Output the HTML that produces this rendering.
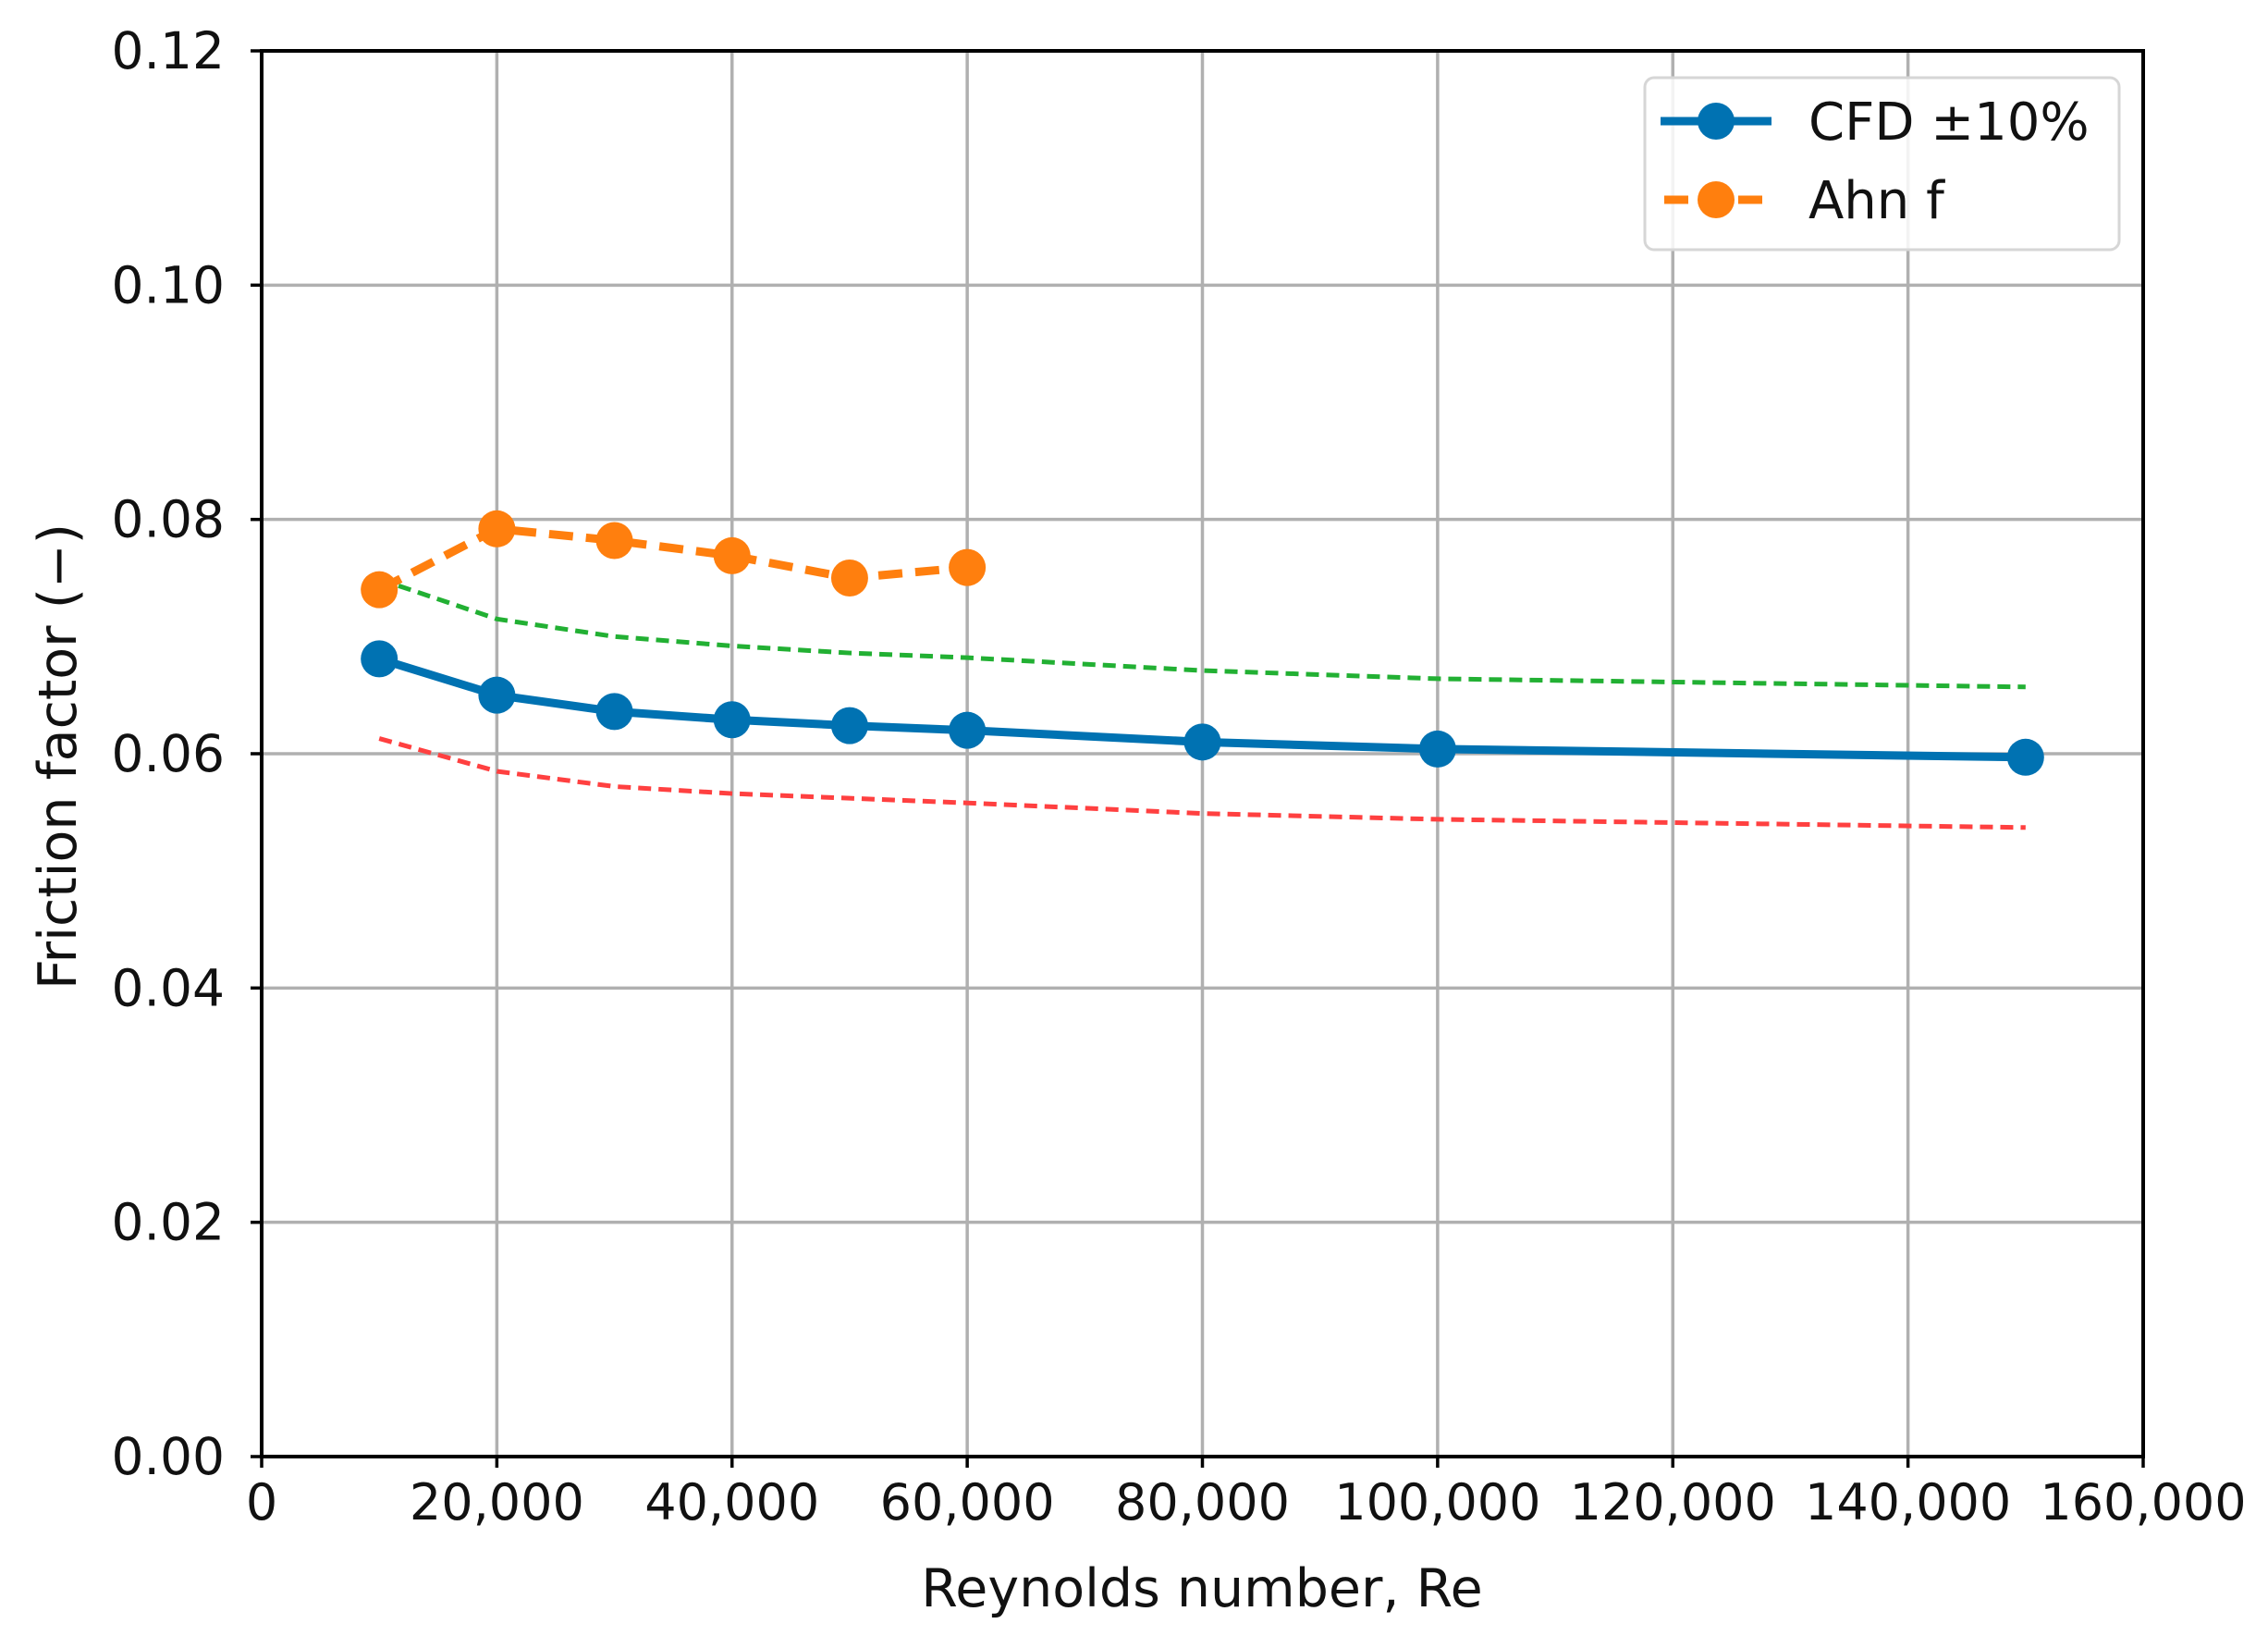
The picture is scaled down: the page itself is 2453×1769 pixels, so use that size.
<!DOCTYPE html>
<html><head><meta charset="utf-8"><style>
html,body{margin:0;padding:0;background:#fff;}
svg{display:block;}
text{font-family:"DejaVu Sans","Liberation Sans",sans-serif;fill:#111;}
</style></head><body>
<svg id="chart" width="2453" height="1769" viewBox="0 0 2453 1769" xmlns="http://www.w3.org/2000/svg">
<g id="grid"></g>
<g id="series"></g>
<g id="axes"></g>
<g>
  <rect x="1779" y="84" width="513" height="186" rx="10" fill="#fff" fill-opacity="0.85" stroke="#d6d6d6" stroke-width="3"/>
  <g>
    <line x1="1796" y1="131" x2="1916" y2="131" stroke="#0072b2" stroke-width="9"/>
    <circle cx="1856" cy="131" r="20" fill="#0072b2"/>
    <text x="1956" y="151" font-size="56">CFD ±10%</text>
  </g>
  <g>
    <line x1="1800" y1="216" x2="1916" y2="216" stroke="#ff7f0e" stroke-width="9" stroke-dasharray="26 14"/>
    <circle cx="1856" cy="216" r="20" fill="#ff7f0e"/>
    <text x="1956" y="236" font-size="56">Ahn f</text>
  </g>
</g>
<text x="1300" y="1737" font-size="57" text-anchor="middle">Reynolds number, Re</text>
<text transform="translate(82,818) rotate(-90)" font-size="57" text-anchor="middle">Friction factor (−)</text>
</svg>
<script>
const reCats = [10000, 20000, 30000, 40000, 50000, 60000, 80000, 100000, 150000];
const cfdValues = [0.0681, 0.0650, 0.0636, 0.0629, 0.0624, 0.0620, 0.0610, 0.0604, 0.0597];
const upperValues = [0.0749, 0.0715, 0.0700, 0.0692, 0.0686, 0.0682, 0.0671, 0.0664, 0.0657];
const lowerValues = [0.0613, 0.0585, 0.0572, 0.0566, 0.0562, 0.0558, 0.0549, 0.0544, 0.0537];
const ahnCats = [10000, 20000, 30000, 40000, 50000, 60000];
const ahnValues = [0.0740, 0.0792, 0.0782, 0.0769, 0.0750, 0.0759];
const xTicks = [0, 20000, 40000, 60000, 80000, 100000, 120000, 140000, 160000];
const xTickLabels = ["0", "20,000", "40,000", "60,000", "80,000", "100,000", "120,000", "140,000", "160,000"];
const yTicks = [0, 0.02, 0.04, 0.06, 0.08, 0.10, 0.12];
const yTickLabels = ["0.00", "0.02", "0.04", "0.06", "0.08", "0.10", "0.12"];

const L = 283, R = 2318, T = 55, B = 1575;
const xMax = 160000, yMax = 0.12;
const xs = v => L + (v / xMax) * (R - L);
const ys = v => B - (v / yMax) * (B - T);
const NS = "http://www.w3.org/2000/svg";
function mk(tag, attrs, parent) {
  const e = document.createElementNS(NS, tag);
  for (const k in attrs) e.setAttribute(k, attrs[k]);
  parent.appendChild(e);
  return e;
}
const grid = document.getElementById('grid');
const axes = document.getElementById('axes');
const series = document.getElementById('series');

xTicks.forEach((t, i) => {
  const g = mk('line', {x1: xs(t), x2: xs(t), y1: T, y2: B, stroke: '#b0b0b0', 'stroke-width': 3.5}, grid);
  
  
  const tk = mk('line', {x1: xs(t), x2: xs(t), y1: B, y2: B + 12, stroke: '#000', 'stroke-width': 3.5}, axes);
  
  
  const lb = mk('text', {x: xs(t), y: B + 68, 'font-size': 54, 'text-anchor': 'middle'}, axes);
  lb.textContent = xTickLabels[i];
  
  
});
yTicks.forEach((t, i) => {
  const g = mk('line', {x1: L, x2: R, y1: ys(t), y2: ys(t), stroke: '#b0b0b0', 'stroke-width': 3.5}, grid);
  
  
  const tk = mk('line', {x1: L - 12, x2: L, y1: ys(t), y2: ys(t), stroke: '#000', 'stroke-width': 3.5}, axes);
  
  
  const lb = mk('text', {x: L - 40, y: ys(t) + 19, 'font-size': 55, 'text-anchor': 'end'}, axes);
  lb.textContent = yTickLabels[i];
  
  
});
const frame = mk('rect', {x: L, y: T, width: R - L, height: B - T, fill: 'none', stroke: '#000', 'stroke-width': 4}, axes);



function pts(cats, vals) { return cats.map((c, i) => xs(c) + ',' + ys(vals[i])).join(' '); }

const up = mk('polyline', {points: pts(reCats, upperValues), fill: 'none', stroke: '#22b033', 'stroke-width': 5, 'stroke-dasharray': '14 8'}, series);


const lo = mk('polyline', {points: pts(reCats, lowerValues), fill: 'none', stroke: '#ff4040', 'stroke-width': 5, 'stroke-dasharray': '14 8'}, series);



const cfd = mk('polyline', {points: pts(reCats, cfdValues), fill: 'none', stroke: '#0072b2', 'stroke-width': 9}, series);


reCats.forEach((c, i) => {
  const m = mk('circle', {cx: xs(c), cy: ys(cfdValues[i]), r: 20, fill: '#0072b2'}, series);
  
  
});

const ahn = mk('polyline', {points: pts(ahnCats, ahnValues), fill: 'none', stroke: '#ff7f0e', 'stroke-width': 9, 'stroke-dasharray': '26 14'}, series);


ahnCats.forEach((c, i) => {
  const m = mk('circle', {cx: xs(c), cy: ys(ahnValues[i]), r: 20, fill: '#ff7f0e'}, series);
  
  
});
</script>
</body></html>
